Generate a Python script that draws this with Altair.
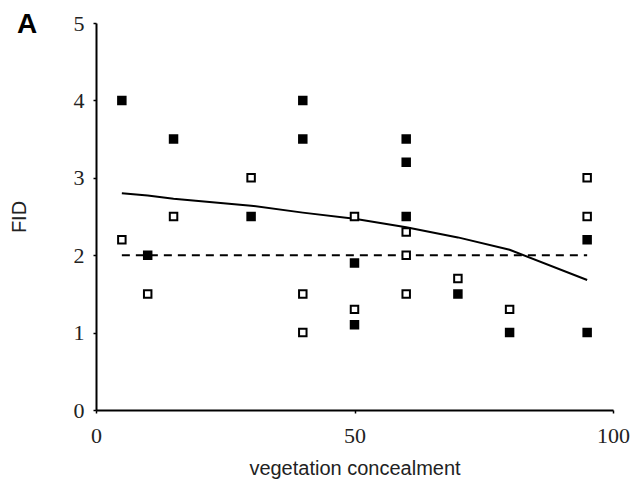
import altair as alt
import pandas as pd

# Flight initiation distance against vegetation concealment
filled_x = [5, 10, 15, 30, 40, 40, 50, 50, 60, 60, 60, 70, 80, 95, 95]
filled_y = [4.0, 2.0, 3.5, 2.5, 4.0, 3.5, 1.9, 1.1, 3.5, 3.2, 2.5, 1.5, 1.0, 2.2, 1.0]

open_x = [5, 10, 15, 30, 40, 40, 50, 50, 60, 60, 60, 70, 80, 95, 95]
open_y = [2.2, 1.5, 2.5, 3.0, 1.5, 1.0, 2.5, 1.3, 2.3, 2.0, 1.5, 1.7, 1.3, 3.0, 2.5]

# Fitted curve (solid) and reference level (dashed)
fit_x = [5, 10, 15, 30, 40, 50, 60, 70, 80, 95]
fit_y = [2.80, 2.77, 2.73, 2.64, 2.55, 2.47, 2.36, 2.23, 2.07, 1.68]
ref_x = [5, 95]
ref_y = [2.0, 2.0]

points = pd.DataFrame({
    "conceal": filled_x + open_x,
    "fid": filled_y + open_y,
    "group": ["filled"] * len(filled_x) + ["open"] * len(open_x),
})
fit = pd.DataFrame({"conceal": fit_x, "fid": fit_y})
ref = pd.DataFrame({"conceal": ref_x, "fid": ref_y})

x_enc = alt.X(
    "conceal:Q",
    scale=alt.Scale(domain=[0, 100], nice=False, zero=True),
    axis=alt.Axis(values=[0, 50, 100], format="d", labelFlush=False,
                  title="vegetation concealment", titlePadding=12),
)
y_enc = alt.Y(
    "fid:Q",
    scale=alt.Scale(domain=[0, 5], nice=False),
    axis=alt.Axis(values=[0, 1, 2, 3, 4, 5], format="d", labelFlush=False,
                  title="FID", titlePadding=44),
)

pts = alt.Chart(points).mark_point(shape="square", size=56, strokeWidth=2, opacity=1).encode(
    x=x_enc,
    y=y_enc,
    fill=alt.Fill("group:N", scale=alt.Scale(domain=["filled", "open"], range=["black", "white"]), legend=None),
    stroke=alt.value("black"),
)

fit_line = alt.Chart(fit).mark_line(color="black", strokeWidth=2).encode(x="conceal:Q", y="fid:Q")
ref_line = alt.Chart(ref).mark_line(color="black", strokeWidth=2, strokeDash=[8, 6]).encode(x="conceal:Q", y="fid:Q")

chart = (
    alt.layer(ref_line, fit_line, pts)
    .properties(
        width=517,
        height=387,
        autosize=alt.AutoSizeParams(type="none"),
        padding={"left": 96, "top": 23, "right": 22, "bottom": 81},
        title=alt.TitleParams(
            text="A", anchor="start", frame="group", dx=-79, dy=19, offset=-8,
            font="Liberation Sans", fontSize=28, fontWeight="bold", color="black",
        ),
    )
    .configure_view(stroke=None)
    .configure_axis(
        grid=False,
        domainColor="black",
        domainWidth=2,
        tickColor="black",
        tickSize=3,
        tickWidth=1.5,
        labelFont="Liberation Serif",
        labelFontSize=22,
        labelColor="#222222",
        labelPadding=9,
        titleFont="Liberation Sans",
        titleFontSize=20,
        titleFontWeight="normal",
        titleColor="#222222",
    )
    .configure_axisX(labelPadding=12)
)

chart.save("out.html", embed_options={"renderer": "svg", "actions": False})
